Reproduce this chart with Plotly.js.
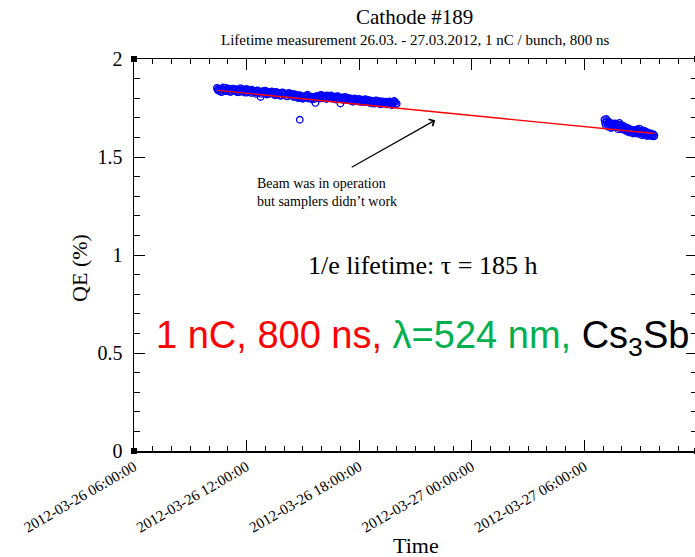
<!DOCTYPE html>
<html><head><meta charset="utf-8">
<script src="https://cdn.plot.ly/plotly-3.0.1.min.js"></script>
<style>html,body{margin:0;padding:0;overflow:hidden;background:#fff}</style>
</head><body><div id="chart"></div>
<script>
// ---- data ----
const seg1Day = '2012-03-26';
const seg1Times = [
 '10:25','10:30','10:35','10:40','10:45','10:50','10:55','11:00','11:05','11:10','11:15','11:20',
 '11:25','11:30','11:35','11:40','11:45','11:50','11:55','12:00','12:05','12:10','12:15','12:20',
 '12:25','12:30','12:35','12:40','12:45','12:50','12:55','13:00','13:05','13:10','13:15','13:20',
 '13:25','13:30','13:35','13:40','13:45','13:50','13:55','14:00','14:05','14:10','14:15','14:20',
 '14:25','14:30','14:35','14:40','14:45','14:50','14:55','15:00','15:05','15:10','15:15','15:20',
 '15:25','15:30','15:35','15:40','15:45','15:50','15:55','16:00','16:05','16:10','16:15','16:20',
 '16:25','16:30','16:35','16:40','16:45','16:50','16:55','17:00','17:05','17:10','17:15','17:20',
 '17:25','17:30','17:35','17:40','17:45','17:50','17:55','18:00','18:05','18:10','18:15','18:20',
 '18:25','18:30','18:35','18:40','18:45','18:50','18:55','19:00','19:05','19:10','19:15','19:20',
 '19:25','19:30','19:35','19:40','19:45','19:50','19:55','20:00'];
const seg1QE = [
 1.852,1.838,1.847,1.831,1.855,1.842,1.836,1.850,1.844,1.833,1.849,1.840,
 1.846,1.830,1.843,1.851,1.835,1.840,1.828,1.847,1.837,1.842,1.826,1.839,
 1.836,1.822,1.840,1.829,1.806,1.833,1.825,1.838,1.819,1.831,1.827,1.835,
 1.829,1.815,1.832,1.820,1.826,1.812,1.830,1.818,1.823,1.809,1.827,1.816,
 1.822,1.806,1.819,1.811,1.800,1.815,1.803,1.797,1.812,1.806,1.818,1.801,
 1.808,1.794,1.802,1.776,1.805,1.812,1.798,1.815,1.804,1.810,1.796,1.812,
 1.806,1.814,1.799,1.808,1.793,1.811,1.802,1.773,1.804,1.795,1.807,1.790,
 1.801,1.788,1.796,1.782,1.799,1.790,1.785,1.797,1.781,1.793,1.786,1.795,
 1.780,1.791,1.776,1.788,1.783,1.772,1.789,1.779,1.785,1.770,1.784,1.776,
 1.782,1.768,1.779,1.773,1.765,1.777,1.781,1.772];
const seg1bTimes = [
 '10:27','10:32','10:37','10:42','10:47','10:52','10:57','11:02','11:07','11:12','11:17','11:22',
 '11:27','11:32','11:37','11:42','11:47','11:52','11:57','12:02','12:07','12:12','12:17','12:22',
 '12:27','12:32','12:37','12:42','12:47','12:52','12:57','13:02','13:07','13:12','13:17','13:22',
 '13:27','13:32','13:37','13:42','13:47','13:52','13:57','14:02','14:07','14:12','14:17','14:22',
 '14:27','14:32','14:37','14:42','14:47','14:52','14:57','15:02','15:07','15:12','15:17','15:22',
 '15:27','15:32','15:37','15:42','15:47','15:52','15:57','16:02','16:07','16:12','16:17','16:22',
 '16:27','16:32','16:37','16:42','16:47','16:52','16:57','17:02','17:07','17:12','17:17','17:22',
 '17:27','17:32','17:37','17:42','17:47','17:52','17:57','18:02','18:07','18:12','18:17','18:22',
 '18:27','18:32','18:37','18:42','18:47','18:52','18:57','19:02','19:07','19:12','19:17','19:22',
 '19:27','19:32','19:37','19:42','19:47','19:52','19:57'];
const seg1bQE = [
 1.843,1.849,1.835,1.846,1.840,1.853,1.837,1.844,1.832,1.848,1.838,1.845,
 1.836,1.844,1.831,1.839,1.847,1.833,1.842,1.829,1.840,1.834,1.843,1.831,
 1.830,1.838,1.826,1.834,1.822,1.836,1.829,1.824,1.833,1.821,1.830,1.825,
 1.822,1.830,1.817,1.825,1.813,1.828,1.819,1.824,1.811,1.821,1.815,1.823,
 1.813,1.820,1.808,1.815,1.804,1.810,1.799,1.807,1.802,1.813,1.798,1.806,
 1.800,1.807,1.797,1.810,1.801,1.806,1.817,1.800,1.809,1.803,1.814,1.801,
 1.810,1.798,1.805,1.796,1.803,1.809,1.797,1.800,1.792,1.802,1.794,1.799,
 1.792,1.799,1.786,1.793,1.788,1.795,1.783,1.790,1.787,1.780,1.791,1.784,
 1.786,1.778,1.784,1.773,1.781,1.787,1.775,1.782,1.769,1.779,1.773,1.780,
 1.775,1.770,1.784,1.767,1.775,1.786,1.769];
const seg2Day = '2012-03-27';
const seg2Times = [
 '07:04','07:08','07:12','07:16','07:20','07:24','07:28','07:32','07:36','07:40','07:44','07:48',
 '07:52','07:56','08:00','08:04','08:08','08:12','08:16','08:20','08:24','08:28','08:32','08:36',
 '08:40','08:44','08:48','08:52','08:56','09:00','09:04','09:08','09:12','09:16','09:20','09:24',
 '09:28','09:32','09:36','09:40','09:44'];
const seg2QE = [
 1.690,1.662,1.683,1.655,1.676,1.648,1.668,1.657,1.672,1.650,1.664,1.641,
 1.674,1.652,1.645,1.660,1.637,1.652,1.630,1.647,1.625,1.641,1.633,1.620,
 1.638,1.627,1.641,1.618,1.645,1.625,1.611,1.636,1.619,1.630,1.607,1.624,
 1.612,1.620,1.606,1.617,1.610];
const seg2bTimes = [
 '07:06','07:10','07:14','07:18','07:22','07:26','07:30','07:34','07:38','07:42','07:46','07:50',
 '07:54','07:58','08:02','08:06','08:10','08:14','08:18','08:22','08:26','08:30','08:34','08:38',
 '08:42','08:46','08:50','08:54','08:58','09:02','09:06','09:10','09:14','09:18','09:22','09:26',
 '09:30','09:34','09:38','09:42'];
const seg2bQE = [
 1.675,1.694,1.668,1.680,1.660,1.672,1.650,1.665,1.659,1.670,1.652,1.660,
 1.665,1.642,1.653,1.648,1.643,1.638,1.641,1.633,1.636,1.626,1.628,1.631,
 1.622,1.633,1.628,1.636,1.620,1.628,1.622,1.614,1.625,1.615,1.619,1.608,
 1.616,1.611,1.614,1.605];
const outlierTimes = ['2012-03-26 14:50'];
const outlierQE = [1.69];
const fitTimes = ['2012-03-26 10:25', '2012-03-27 09:44'];
const fitQE = [1.84, 1.62];
const xRange = ['2012-03-26 06:00:00', '2012-03-27 12:00:00'];
const yRange = [0, 2];
const titleText = 'Cathode #189';
const subtitleText = 'Lifetime measurement 26.03. - 27.03.2012, 1 nC / bunch, 800 ns';
const noteText = 'Beam was in operation<br>but samplers didn\u2019t work';
const lifetimeText = '1/e lifetime: \u03c4 = 185 h';
const xTitle = 'Time';
const yTitle = 'QE (%)';

// ---- build traces ----
const withDay = (day, arr) => arr.map(t => day + ' ' + t);
const allTimes = withDay(seg1Day, seg1Times).concat(withDay(seg1Day, seg1bTimes))
  .concat(withDay(seg2Day, seg2Times)).concat(withDay(seg2Day, seg2bTimes))
  .concat(outlierTimes);
const allQE = seg1QE.concat(seg1bQE).concat(seg2QE).concat(seg2bQE).concat(outlierQE);

const serif = 'Liberation Serif, Times New Roman, serif';
const sans = 'Liberation Sans, Arial, sans-serif';

const traces = [
  {x: allTimes, y: allQE, type: 'scatter', mode: 'markers',
   marker: {symbol: 'circle-open', size: 6.5, color: '#0000ff', line: {width: 1.3, color: '#0000ff'}},
   hoverinfo: 'skip'},
  {x: fitTimes, y: fitQE, type: 'scatter', mode: 'lines',
   line: {color: '#ff0000', width: 1.3}, hoverinfo: 'skip'}
];

const axisCommon = {
  showline: true, linecolor: '#000', linewidth: 1.5, mirror: 'ticks',
  ticks: 'inside', tickcolor: '#000', tickwidth: 1, ticklen: 11,
  showgrid: false, zeroline: false, fixedrange: true
};

const layout = {
  width: 700, height: 557,
  margin: {l: 134, r: 3, t: 59, b: 106},
  paper_bgcolor: '#fff', plot_bgcolor: '#fff',
  showlegend: false,
  xaxis: Object.assign({}, axisCommon, {
    type: 'date', range: xRange, tickmode: 'linear',
    tick0: '2012-03-26 06:00:00', dtick: 6 * 3600000,
    tickformat: '%Y-%m-%d %H:%M:%S', tickangle: -30,
    tickfont: {family: serif, size: 15, color: '#000'},
    minor: {dtick: 3600000, ticks: 'inside', ticklen: 5, tickcolor: '#000', tickwidth: 1}
  }),
  yaxis: Object.assign({}, axisCommon, {
    range: yRange, tickmode: 'linear', tick0: 0, dtick: 0.5,
    tickfont: {family: serif, size: 20, color: '#000'},
    ticklabelstandoff: 6,
    minor: {dtick: 0.1, ticks: 'inside', ticklen: 6, tickcolor: '#000', tickwidth: 1}
  }),
  annotations: [
    {xref: 'paper', yref: 'paper', x: 0.499, y: 1.107, text: titleText, showarrow: false,
     font: {family: serif, size: 21, color: '#000'}, xanchor: 'center', yanchor: 'middle'},
    {xref: 'paper', yref: 'paper', x: 0.499, y: 1.048, text: subtitleText, showarrow: false,
     font: {family: serif, size: 15, color: '#000'}, xanchor: 'center', yanchor: 'middle'},
    {xref: 'paper', yref: 'paper', x: 0.215, y: 0.659, text: noteText, showarrow: false, align: 'left',
     font: {family: serif, size: 14, color: '#000'}, xanchor: 'left', yanchor: 'middle'},
    {xref: 'paper', yref: 'paper', x: 0.535, y: 0.844, text: '', showarrow: true,
     ax: -85, ay: 48, arrowhead: 4, arrowsize: 1.3, arrowwidth: 1.2, arrowcolor: '#000'},
    {xref: 'paper', yref: 'paper', x: 0.513, y: 0.474, text: lifetimeText, showarrow: false,
     font: {family: serif, size: 26, color: '#000'}, xanchor: 'center', yanchor: 'middle'},
    {xref: 'paper', yref: 'paper', x: 0.512, y: 0.288, showarrow: false,
     text: '<span style="color:#ff0000">1 nC, 800 ns, </span><span style="color:#00b050">\u03bb=524 nm, </span><span style="color:#000">Cs<sub>3</sub>Sb</span>',
     font: {family: sans, size: 38, color: '#000'}, xanchor: 'center', yanchor: 'middle'},
    {xref: 'paper', yref: 'paper', x: -0.096, y: 0.467, text: yTitle, showarrow: false, textangle: -90,
     font: {family: serif, size: 22, color: '#000'}, xanchor: 'center', yanchor: 'middle'},
    {xref: 'paper', yref: 'paper', x: 0.5, y: -0.24, text: xTitle, showarrow: false,
     font: {family: serif, size: 22, color: '#000'}, xanchor: 'center', yanchor: 'middle'}
  ],
  shapes: [[0,0],[0,1],[1,0],[1,1]].map(([px, py]) => ({
    type: 'rect', xref: 'paper', yref: 'paper', xsizemode: 'pixel', ysizemode: 'pixel',
    xanchor: px, yanchor: py, x0: -3, x1: 3, y0: -3, y1: 3,
    fillcolor: '#000', line: {width: 0}
  }))
};

Plotly.newPlot('chart', traces, layout, {staticPlot: true, displayModeBar: false});
</script>
</body></html>
